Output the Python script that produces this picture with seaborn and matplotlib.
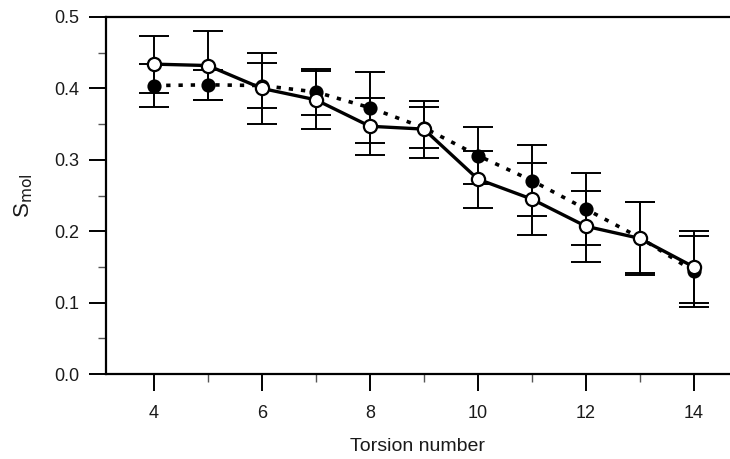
import numpy as np
import pandas as pd
import matplotlib
matplotlib.use("Agg")
import matplotlib.pyplot as plt
from matplotlib.ticker import MultipleLocator, FormatStrFormatter
import seaborn as sns

# torsion numbers and S_mol values
torsion = [4, 5, 6, 7, 8, 9, 10, 11, 12, 13, 14]
open_vals = [0.434, 0.432, 0.400, 0.384, 0.347, 0.343, 0.273, 0.245, 0.207, 0.190, 0.150]
open_err = [0.040, 0.048, 0.050, 0.041, 0.040, 0.040, 0.040, 0.050, 0.050, 0.051, 0.050]
filled_vals = [0.404, 0.405, 0.404, 0.395, 0.373, 0.345, 0.306, 0.271, 0.231, 0.191, 0.144]
filled_err = [0.030, 0.021, 0.031, 0.032, 0.050, 0.029, 0.040, 0.050, 0.050, 0.050, 0.050]

df = pd.DataFrame({"torsion": torsion, "open": open_vals, "filled": filled_vals})

sns.set_style("ticks")
plt.rcParams['font.family'] = ['Liberation Sans', 'DejaVu Sans']

fig = plt.figure(figsize=(7.3, 4.59), dpi=100)
ax = fig.add_axes([0.145, 0.185, 0.855, 0.778])

# filled circles, dotted line (drawn underneath)
ax.errorbar(df["torsion"], df["filled"], yerr=filled_err, fmt="none",
            ecolor="black", elinewidth=1.4, capsize=11, capthick=1.4, zorder=2)
sns.lineplot(data=df, x="torsion", y="filled", ax=ax, color="black",
             linestyle=(0, (1.2, 2.2)), linewidth=2.6, marker="o",
             markersize=9, markerfacecolor="black", markeredgecolor="black",
             markeredgewidth=1.2, zorder=3)

# open circles, solid line
ax.errorbar(df["torsion"], df["open"], yerr=open_err, fmt="none",
            ecolor="black", elinewidth=1.4, capsize=11, capthick=1.4, zorder=4)
sns.lineplot(data=df, x="torsion", y="open", ax=ax, color="black",
             linestyle="-", linewidth=2.4, marker="o",
             markersize=9.5, markerfacecolor="white", markeredgecolor="black",
             markeredgewidth=1.6, zorder=5)

ax.set_xlim(3.11, 14.67)
ax.set_ylim(0.0, 0.5)
ax.xaxis.set_major_locator(MultipleLocator(2))
ax.xaxis.set_minor_locator(MultipleLocator(1))
ax.yaxis.set_major_locator(MultipleLocator(0.1))
ax.yaxis.set_minor_locator(MultipleLocator(0.05))
ax.yaxis.set_major_formatter(FormatStrFormatter("%.1f"))

ax.tick_params(axis="both", which="major", direction="out", length=12,
               width=1.4, labelsize=13, color="black", labelcolor="#1a1a1a")
ax.tick_params(axis="x", which="major", pad=10)
ax.tick_params(axis="y", which="major", pad=7)
ax.tick_params(axis="both", which="minor", direction="out", length=6,
               width=1.0, color="#555555")

for side in ["left", "bottom", "top"]:
    ax.spines[side].set_linewidth(1.6)
    ax.spines[side].set_color("black")
ax.spines["right"].set_visible(False)

ax.set_xlabel("Torsion number", fontsize=14, color="#1a1a1a", labelpad=12)
ax.set_ylabel(r"S$_{\mathrm{mol}}$", fontsize=16, color="#1a1a1a", labelpad=14)

fig.savefig("out.png", dpi=100)
